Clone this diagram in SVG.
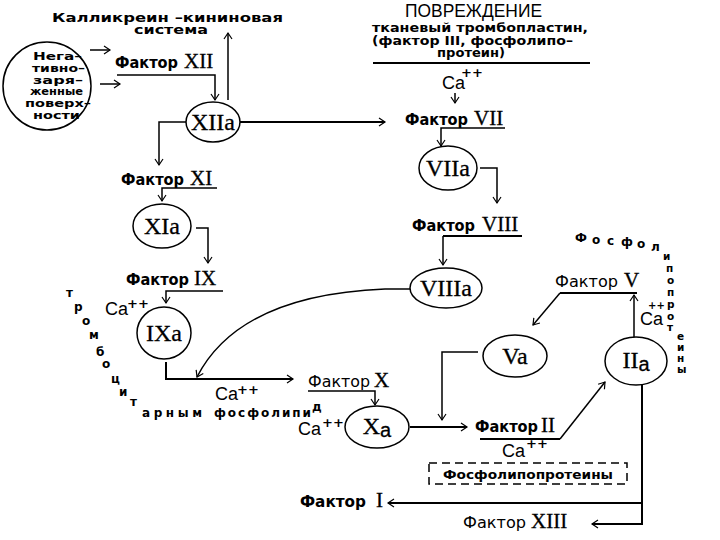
<svg xmlns="http://www.w3.org/2000/svg" width="720" height="540" viewBox="0 0 720 540">
<style>
.f{font-family:"DejaVu Sans",sans-serif;font-weight:bold;font-size:15px}
.fr{font-family:"DejaVu Sans",sans-serif;font-size:15px}
.r{font-family:"Liberation Serif",serif;font-size:21px;stroke:#000;stroke-width:0.3}
.n{font-family:"Liberation Serif",serif;font-size:24px;text-anchor:middle;stroke:#000;stroke-width:0.3}
.ca{font-family:"Liberation Sans",sans-serif;font-size:18px}
.pp{font-family:"DejaVu Sans",sans-serif;font-weight:bold;font-size:13px}
.s{font-family:"DejaVu Sans",sans-serif;font-weight:bold;font-size:12px}
.v{font-family:"DejaVu Sans",sans-serif;font-weight:bold;font-size:10.5px}
.w{font-family:"DejaVu Sans",sans-serif;font-weight:bold;font-size:11px}
.t{font-family:"DejaVu Sans",sans-serif;font-weight:bold;font-size:13px}
.c{fill:none;stroke:#000;stroke-width:1.5}
.a{fill:none;stroke:#000;stroke-width:1.5;marker-end:url(#ah)}
ellipse,circle{fill:#fff;stroke:#000;stroke-width:1.5}
</style>
<defs>
<marker id="ah" markerUnits="userSpaceOnUse" markerWidth="12" markerHeight="12" refX="8" refY="5" orient="auto">
<path d="M2,1 L8,5 L2,9" fill="none" stroke="#000" stroke-width="1.2"/>
</marker>
</defs>
<rect width="720" height="540" fill="#fff"/>

<g id="connectors">
<path class="a" d="M90,50 H110"/>
<path class="a" d="M100,84 H120"/>
<path class="a" d="M117,75 H215 V100"/>
<path class="a" d="M228,100 V33"/>
<path class="c" d="M240,122 H385" style="stroke-width:2"/>
<path class="a" d="M378,122 H385"/>
<path class="a" d="M186,122 H159 V165"/>
<path class="a" d="M217,188 H162 V201"/>
<path class="a" d="M196,228 H208 V263"/>
<path class="a" d="M223,291 H166 V303"/>
<path class="c" d="M166,362 V379 H293" style="stroke-width:2"/>
<path class="a" d="M286,379 H293"/>
<path class="a" d="M410,289 H385 Q239,295 197,377"/>
<path class="a" d="M455,93 V103"/>
<path class="a" d="M505,128 H441 V146"/>
<path class="a" d="M480,168 H497 V203"/>
<path class="c" d="M522,236 H443" style="stroke-width:2"/>
<path class="a" d="M443,236 V265"/>
<path class="c" d="M637,293 H560" style="stroke-width:2"/>
<path class="a" d="M560,293 L533,325"/>
<path class="a" d="M634,337 V295"/>
<path class="a" d="M478,352 H442 V420"/>
<path class="a" d="M308,391 H375 V405"/>
<path class="c" d="M410,427 H467" style="stroke-width:2"/>
<path class="a" d="M460,427 H467"/>
<path class="c" d="M480,439 H560" style="stroke-width:2"/>
<path class="a" d="M560,439 L605,382"/>
<path class="c" d="M642,385 V524 H592" style="stroke-width:2"/>
<path class="a" d="M600,524 H592"/>
<path class="c" d="M642,503 H388" style="stroke-width:2"/>
<path class="a" d="M396,503 H388"/>
<path class="c" d="M373,63 H590" style="stroke-width:2"/>
</g>

<g id="kallikrein">
<text class="t" x="52" y="22" textLength="231" lengthAdjust="spacingAndGlyphs">Калликреин –кининовая</text>
<text class="t" x="134" y="34" textLength="74" lengthAdjust="spacingAndGlyphs" style="font-size:12px">система</text>
</g>

<g id="surfaces">
<circle cx="47" cy="86" r="44"/>
<text class="w" x="33" y="60" textLength="49" lengthAdjust="spacingAndGlyphs">Нега–</text>
<text class="w" x="32" y="72" textLength="53" lengthAdjust="spacingAndGlyphs">тивно–</text>
<text class="w" x="33" y="84" textLength="50" lengthAdjust="spacingAndGlyphs">заря–</text>
<text class="w" x="30" y="95" textLength="53" lengthAdjust="spacingAndGlyphs">женные</text>
<text class="w" x="25" y="107" textLength="66" lengthAdjust="spacingAndGlyphs">поверх–</text>
<text class="w" x="33" y="119" textLength="47" lengthAdjust="spacingAndGlyphs">ности</text>
</g>

<g id="injury">
<text class="ca" x="405" y="17" textLength="137" lengthAdjust="spacingAndGlyphs">ПОВРЕЖДЕНИЕ</text>
<text class="t" x="372" y="32" textLength="216" lengthAdjust="spacingAndGlyphs" style="font-size:12px">тканевый тромбопластин,</text>
<text class="t" x="372" y="45" textLength="201" lengthAdjust="spacingAndGlyphs" style="font-size:12px">(фактор III, фосфолипо–</text>
<text class="t" x="437" y="57" textLength="68" lengthAdjust="spacingAndGlyphs" style="font-size:12px">протеин)</text>
<text class="ca" x="442" y="89">Ca</text>
<text class="pp" x="461" y="77">++</text>
</g>

<g id="f12"><text class="f" x="115" y="68" textLength="63" lengthAdjust="spacingAndGlyphs">Фактор</text><text class="r" x="184" y="68">XII</text></g>
<g id="f7"><text class="f" x="405" y="125" textLength="63" lengthAdjust="spacingAndGlyphs">Фактор</text><text class="r" x="474" y="125">VII</text></g>
<g id="f11"><text class="f" x="121" y="185" textLength="63" lengthAdjust="spacingAndGlyphs">Фактор</text><text class="r" x="190" y="185">XI</text></g>
<g id="f8"><text class="f" x="412" y="231" textLength="63" lengthAdjust="spacingAndGlyphs">Фактор</text><text class="r" x="482" y="231">VIII</text></g>
<g id="f9"><text class="f" x="126" y="285" textLength="63" lengthAdjust="spacingAndGlyphs">Фактор</text><text class="r" x="194" y="285">IX</text></g>
<g id="f5"><text class="fr" x="555" y="287" textLength="63" lengthAdjust="spacingAndGlyphs">Фактор</text><text class="r" x="624" y="287">V</text></g>
<g id="f10"><text class="fr" x="308" y="387" textLength="62" lengthAdjust="spacingAndGlyphs">Фактор</text><text class="r" x="374" y="387">X</text></g>
<g id="f2"><text class="f" x="475" y="432" textLength="63" lengthAdjust="spacingAndGlyphs">Фактор</text><text class="r" x="541" y="432">II</text></g>
<g id="f1"><text class="f" x="300" y="507" textLength="66" lengthAdjust="spacingAndGlyphs">Фактор</text><text class="r" x="376" y="507">I</text></g>
<g id="f13"><text class="fr" x="463" y="528" textLength="63" lengthAdjust="spacingAndGlyphs">Фактор</text><text class="r" x="531" y="528">XIII</text></g>

<g id="n12a"><ellipse cx="213" cy="122" rx="27" ry="20"/><text class="n" x="213" y="130">XIIa</text></g>
<g id="n7a"><ellipse cx="448" cy="168" rx="29" ry="22"/><text class="n" x="448" y="176">VIIa</text></g>
<g id="n11a"><ellipse cx="162" cy="226" rx="29" ry="22"/><text class="n" x="162" y="234">XIa</text></g>
<g id="n8a"><ellipse cx="446" cy="288" rx="36" ry="20"/><text class="n" x="446" y="296">VIIIa</text></g>
<g id="n9a"><ellipse cx="164" cy="333" rx="27" ry="26"/><text class="n" x="164" y="341">IXa</text></g>
<g id="n10a"><ellipse cx="377" cy="427" rx="32" ry="21"/><text class="n" x="377" y="434">X<tspan font-family="Liberation Sans" font-size="20" dy="3">a</tspan></text></g>
<g id="n5a"><ellipse cx="515" cy="356" rx="32" ry="21"/><text class="n" x="515" y="364">Va</text></g>
<g id="n2a"><ellipse cx="636" cy="361" rx="31" ry="24"/><text class="n" x="636" y="368">II<tspan font-family="Liberation Sans" font-size="20" dy="3">a</tspan></text></g>

<g id="calcium">
<text class="ca" x="105" y="315">Ca</text><text class="pp" x="127" y="308">++</text>
<text class="ca" x="215" y="400">Ca</text><text class="pp" x="237" y="394">++</text>
<text class="ca" x="298" y="435">Ca</text><text class="pp" x="322" y="427">++</text>
<text class="ca" x="640" y="325">Ca</text><text class="pp" x="648" y="309" style="font-size:10px">++</text>
<text class="ca" x="502" y="457">Ca</text><text class="pp" x="526" y="448">++</text>
</g>

<g id="platelet-phospholipid">
<text class="s" x="66" y="297">т</text>
<text class="s" x="74" y="311">р</text>
<text class="s" x="82" y="325">о</text>
<text class="s" x="89" y="339">м</text>
<text class="s" x="96" y="356">б</text>
<text class="s" x="102" y="368">о</text>
<text class="s" x="111" y="383">ц</text>
<text class="s" x="119" y="396">и</text>
<text class="s" x="130" y="406">т</text>
<text class="s" x="142" y="417" textLength="64" lengthAdjust="spacing" style="letter-spacing:4px">арным</text>
<text class="s" x="214" y="417" textLength="98" lengthAdjust="spacing" style="letter-spacing:1px">фосфолипи</text>
<text class="s" x="312" y="411">д</text>
</g>

<g id="phospholipoprotein-arc">
<text class="s" x="575" y="242">Ф</text>
<text class="s" x="592" y="244">о</text>
<text class="s" x="607" y="245">с</text>
<text class="s" x="621" y="246">ф</text>
<text class="s" x="637" y="248">о</text>
<text class="s" x="651" y="251">л</text>
<text class="v" x="663" y="260">и</text>
<text class="v" x="666" y="272">п</text>
<text class="v" x="667" y="284">о</text>
<text class="v" x="667" y="296">п</text>
<text class="v" x="667" y="308">р</text>
<text class="v" x="667" y="320">о</text>
<text class="v" x="667" y="331">т</text>
<text class="v" x="677" y="340">е</text>
<text class="v" x="677" y="351">и</text>
<text class="v" x="677" y="362">н</text>
<text class="v" x="677" y="373">ы</text>
</g>

<g id="phospholipoprotein-box">
<rect x="429" y="463" width="198" height="21" fill="none" stroke="#000" stroke-width="1.5" stroke-dasharray="8,5"/>
<text class="s" x="443" y="479" textLength="170" lengthAdjust="spacingAndGlyphs">Фосфолипопротеины</text>
</g>
</svg>
